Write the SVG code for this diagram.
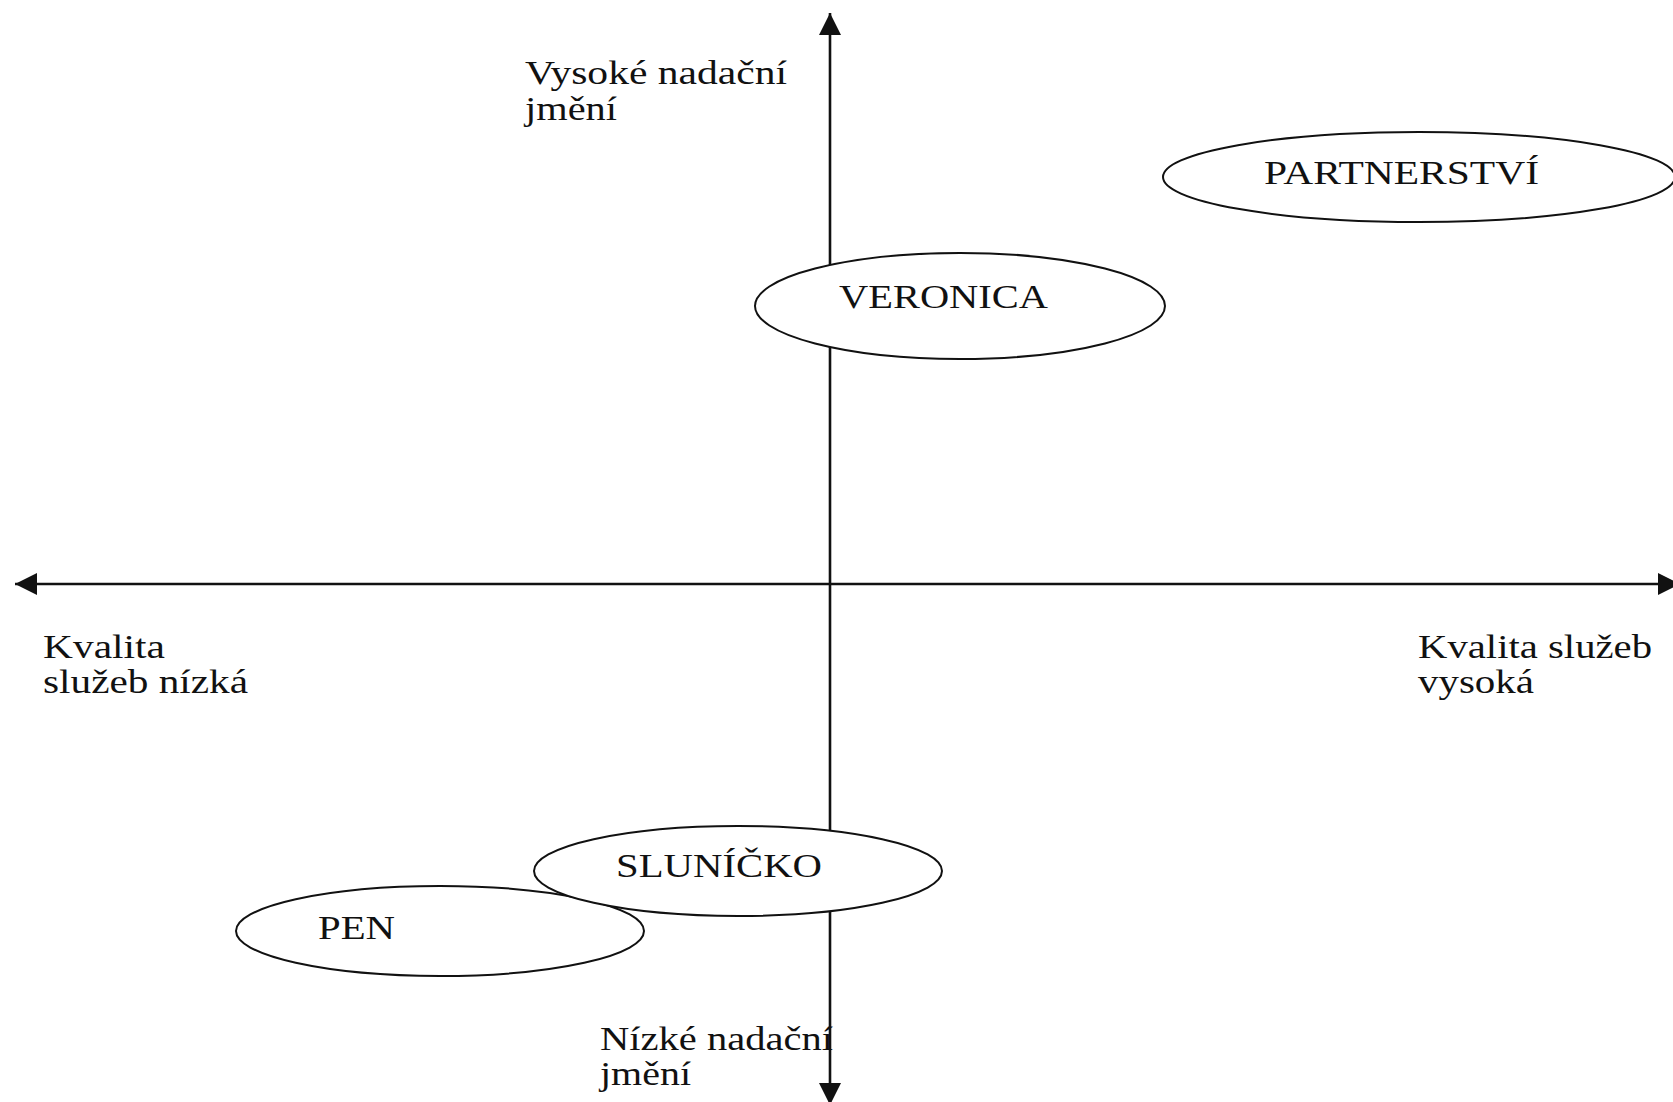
<svg xmlns="http://www.w3.org/2000/svg" width="1673" height="1102" viewBox="0 0 1673 1102">
<style>
.t{font-family:"Liberation Serif","Times New Roman",serif;font-size:33px;fill:#111}
.ax{stroke:#111;stroke-width:2.6;fill:none}
.el{fill:#fff;stroke:#111;stroke-width:2}
</style>
<defs>
<marker id="ah" viewBox="0 0 22 22" refX="22" refY="11" markerWidth="22" markerHeight="22" markerUnits="userSpaceOnUse" orient="auto-start-reverse">
<path d="M0,0 L22,11 L0,22 z" fill="#111"/>
</marker>
</defs>
<rect width="1673" height="1102" fill="#fff"/>
<g id="connectors">
<line class="ax" x1="830" y1="13" x2="830" y2="1105" marker-start="url(#ah)" marker-end="url(#ah)"/>
<line class="ax" x1="15" y1="584" x2="1680" y2="584" marker-start="url(#ah)" marker-end="url(#ah)"/>
</g>
<g id="axis-labels">
<text class="t" x="525" y="84" textLength="262" lengthAdjust="spacingAndGlyphs">Vysoké nadační</text>
<text class="t" x="525" y="120" textLength="92" lengthAdjust="spacingAndGlyphs">jmění</text>
<text class="t" x="43" y="658" textLength="122" lengthAdjust="spacingAndGlyphs">Kvalita</text>
<text class="t" x="43" y="693" textLength="205" lengthAdjust="spacingAndGlyphs">služeb nízká</text>
<text class="t" x="1418" y="658" textLength="234" lengthAdjust="spacingAndGlyphs">Kvalita služeb</text>
<text class="t" x="1418" y="693" textLength="116" lengthAdjust="spacingAndGlyphs">vysoká</text>
<text class="t" x="600" y="1050" textLength="233" lengthAdjust="spacingAndGlyphs">Nízké nadační</text>
<text class="t" x="600" y="1085" textLength="91" lengthAdjust="spacingAndGlyphs">jmění</text>
</g>
<g id="partnerstvi">
<ellipse class="el" cx="1419" cy="177" rx="256" ry="45"/>
<text class="t" x="1264" y="184" textLength="275" lengthAdjust="spacingAndGlyphs">PARTNERSTVÍ</text>
</g>
<g id="veronica">
<ellipse class="el" cx="960" cy="306" rx="205" ry="53"/>
<text class="t" x="839" y="308" textLength="209" lengthAdjust="spacingAndGlyphs">VERONICA</text>
</g>
<g id="pen">
<ellipse class="el" cx="440" cy="931" rx="204" ry="45"/>
<text class="t" x="318" y="939" textLength="77" lengthAdjust="spacingAndGlyphs">PEN</text>
</g>
<g id="slunicko">
<ellipse class="el" cx="738" cy="871" rx="204" ry="45"/>
<text class="t" x="616" y="877" textLength="206" lengthAdjust="spacingAndGlyphs">SLUNÍČKO</text>
</g>
</svg>
